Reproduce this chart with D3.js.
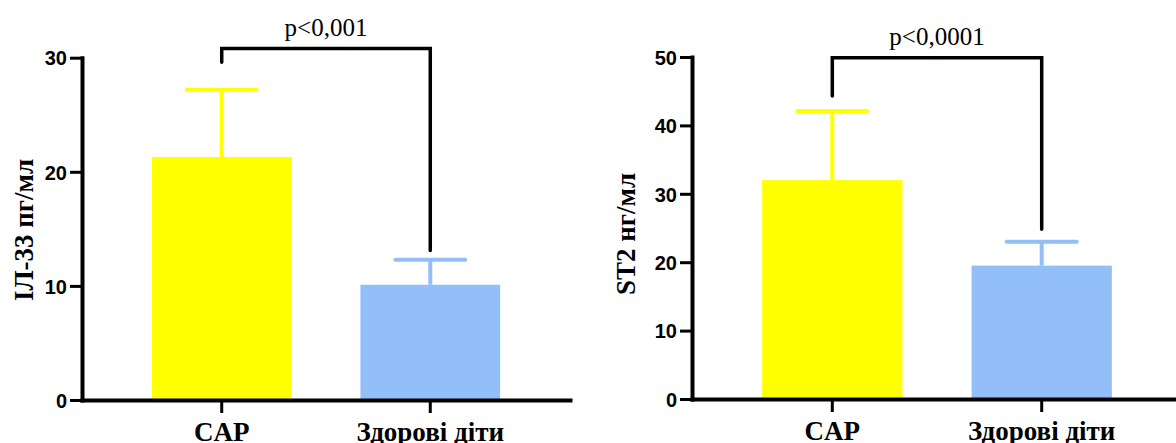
<!DOCTYPE html>
<html>
<head>
<meta charset="utf-8">
<script src="https://cdn.jsdelivr.net/npm/d3@7"></script>
<style>
    body { margin: 0; background: #fff; }
    svg { display: block; }
</style>
</head>
<body>
<div id="chart"></div>
<script>
(function () {
    'use strict';

    // data
    var categories = ['CAP', 'Здорові діти'];
    var barColors = ['#ffff00', '#92bff8'];

    var il33Means = [21.3, 10.1];
    var il33Sd = [5.9, 2.2];
    var il33Ticks = [0, 10, 20, 30];

    var st2Means = [32.0, 19.5];
    var st2Sd = [10.1, 3.5];
    var st2Ticks = [0, 10, 20, 30, 40, 50];

    var pLabels = ['p<0,001', 'p<0,0001'];
    // bracket: top level, left leg end, right leg end (data units)
    var il33Bracket = [30.8, 29.6, 13.1];
    var st2Bracket = [49.9, 44.3, 24.8];

    var serif = "'Liberation Serif', 'Times New Roman', serif";
    var sans = "'Liberation Sans', Arial, sans-serif";

    var svgWidth = 1176;
    var svgHeight = 443;

    var panels = [
        {
            means: il33Means, sd: il33Sd, ticks: il33Ticks, max: 30,
            bracket: il33Bracket, pLabel: pLabels[0], title: 'ІЛ-33 пг/мл',
            xRange: [82, 570], yRange: [400, 57.7], titleX: 33, titleY: 230
        },
        {
            means: st2Means, sd: st2Sd, ticks: st2Ticks, max: 50,
            bracket: st2Bracket, pLabel: pLabels[1], title: 'ST2 нг/мл',
            xRange: [692, 1182], yRange: [399, 57], titleX: 635, titleY: 234
        }
    ];

    var svg = d3.select('#chart')
        .append('svg')
        .attr('width', svgWidth)
        .attr('height', svgHeight);

    panels.forEach(function (p) {
        drawPanel(svg, p);
    });

    function drawPanel(svg, p) {
        var g = svg.append('g');

        var x = d3.scaleBand()
            .domain(categories)
            .range(p.xRange)
            .paddingInner(0.33)
            .paddingOuter(0.335);

        var y = d3.scaleLinear()
            .domain([0, p.max])
            .range(p.yRange);

        var rows = categories.map(function (c, i) {
            return { cat: c, mean: p.means[i], sd: p.sd[i], color: barColors[i] };
        });

        // bars
        g.selectAll('rect.bar')
            .data(rows)
            .enter()
            .append('rect')
            .attr('class', 'bar')
            .attr('x', function (d) { return x(d.cat); })
            .attr('width', x.bandwidth())
            .attr('y', function (d) { return y(d.mean); })
            .attr('height', function (d) { return y(0) - y(d.mean); })
            .attr('fill', function (d) { return d.color; });

        // upper error bars
        var err = g.selectAll('g.err')
            .data(rows)
            .enter()
            .append('g')
            .attr('class', 'err')
            .attr('stroke', function (d) { return d.color; })
            .attr('stroke-width', 4);

        err.append('line')
            .attr('x1', function (d) { return x(d.cat) + x.bandwidth() / 2; })
            .attr('x2', function (d) { return x(d.cat) + x.bandwidth() / 2; })
            .attr('y1', function (d) { return y(d.mean); })
            .attr('y2', function (d) { return y(d.mean + d.sd); });

        err.append('line')
            .attr('x1', function (d) { return x(d.cat) + x.bandwidth() / 4; })
            .attr('x2', function (d) { return x(d.cat) + x.bandwidth() * 3 / 4; })
            .attr('y1', function (d) { return y(d.mean + d.sd); })
            .attr('y2', function (d) { return y(d.mean + d.sd); })
            .attr('stroke-linecap', 'round');

        // axes
        var yAxis = g.append('g')
            .attr('transform', 'translate(' + p.xRange[0] + ',0)')
            .call(d3.axisLeft(y)
                .tickValues(p.ticks)
                .tickSize(12)
                .tickSizeOuter(0)
                .tickPadding(3));

        var xAxis = g.append('g')
            .attr('transform', 'translate(0,' + y(0) + ')')
            .call(d3.axisBottom(x)
                .tickSize(13)
                .tickSizeOuter(0)
                .tickPadding(9));

        styleAxis(yAxis);
        styleAxis(xAxis);

        yAxis.selectAll('text')
            .style('font-family', sans)
            .style('font-weight', 'bold')
            .style('font-size', '20px')
            .attr('dy', '0.36em');

        xAxis.selectAll('text')
            .style('font-family', serif)
            .style('font-weight', 'bold')
            .style('font-size', '27px');

        // y axis title
        g.append('text')
            .attr('transform', 'translate(' + p.titleX + ',' + p.titleY + ') rotate(-90)')
            .attr('text-anchor', 'middle')
            .style('font-family', serif)
            .style('font-weight', 'bold')
            .style('font-size', '27px')
            .attr('fill', '#000')
            .text(p.title);

        // significance bracket
        var xl = x(categories[0]) + x.bandwidth() / 2;
        var xr = x(categories[1]) + x.bandwidth() / 2;
        var path = d3.path();
        path.moveTo(xl, y(p.bracket[1]));
        path.lineTo(xl, y(p.bracket[0]));
        path.lineTo(xr, y(p.bracket[0]));
        path.lineTo(xr, y(p.bracket[2]));

        g.append('path')
            .attr('d', path.toString())
            .attr('fill', 'none')
            .attr('stroke', '#000')
            .attr('stroke-width', 3.5)
            .attr('stroke-linecap', 'round');

        g.append('text')
            .attr('x', (xl + xr) / 2)
            .attr('y', y(p.bracket[0]) - 13)
            .attr('text-anchor', 'middle')
            .style('font-family', serif)
            .style('font-size', '25px')
            .attr('fill', '#000')
            .text(p.pLabel);
    }

    function styleAxis(axis) {
        axis.select('.domain')
            .attr('stroke', '#000')
            .attr('stroke-width', 4)
            .attr('stroke-linecap', 'square');
        axis.selectAll('.tick line')
            .attr('stroke', '#000')
            .attr('stroke-width', 3);
        axis.selectAll('.tick text')
            .attr('fill', '#000');
    }

}());
</script>
</body>
</html>
